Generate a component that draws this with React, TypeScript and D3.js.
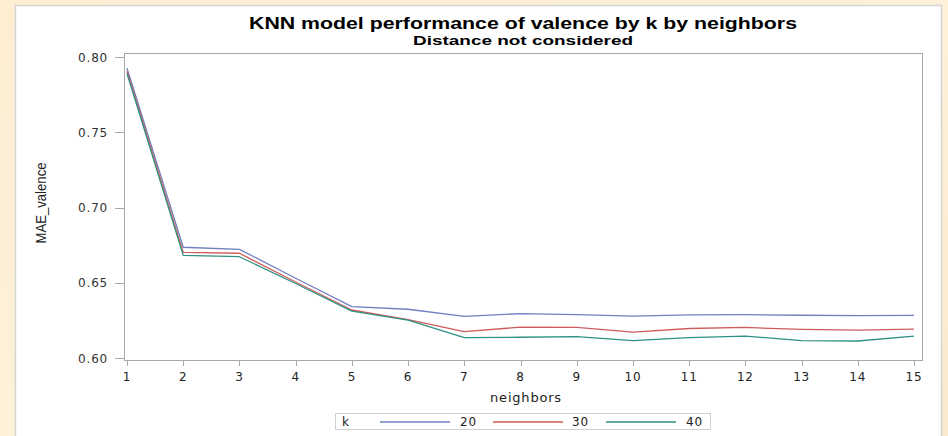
import React from "react";
import * as d3 from "d3";

const neighbors = [1, 2, 3, 4, 5, 6, 7, 8, 9, 10, 11, 12, 13, 14, 15];
const k20 = [0.7925, 0.6736, 0.6722, 0.6530, 0.6341, 0.6324, 0.6276, 0.6295, 0.6288, 0.6278, 0.6286, 0.6288, 0.6284, 0.6282, 0.6283];
const k30 = [0.7905, 0.6702, 0.6696, 0.6505, 0.6319, 0.6255, 0.6175, 0.6205, 0.6203, 0.6172, 0.6196, 0.6203, 0.6190, 0.6185, 0.6192];
const k40 = [0.7890, 0.6682, 0.6673, 0.6495, 0.6312, 0.6252, 0.6135, 0.6138, 0.6142, 0.6115, 0.6135, 0.6146, 0.6115, 0.6113, 0.6146];
const seriesNames = ["20", "30", "40"];
const seriesColors = ["#6f7fc0", "#d05b5b", "#2e9282"];
const yTicks = [0.6, 0.65, 0.7, 0.75, 0.8];

const W = 948;
const H = 436;

export default function App() {
  const x = d3.scaleLinear().domain([1, 15]).range([127, 914]);
  const y = d3.scaleLinear().domain([0.6, 0.8]).range([358, 57]);
  const frame = { l: 124, r: 922, t: 53, b: 360 };
  const line = d3
    .line<number>()
    .x((_, i) => x(neighbors[i]))
    .y((d) => y(d));
  const all = [k20, k30, k40];
  const tickFont = "'DejaVu Sans', Verdana, sans-serif";
  const legendItems = [
    { name: seriesNames[0], x1: 380, x2: 450, tx: 460 },
    { name: seriesNames[1], x1: 493, x2: 563, tx: 572 },
    { name: seriesNames[2], x1: 606, x2: 676, tx: 686 },
  ];
  return (
    <svg
      width={W}
      height={H}
      style={{ position: "absolute", left: 0, top: 0, display: "block" }}
    >
      <defs>
        <linearGradient id="bg" x1="0" y1="0" x2="1" y2="1">
          <stop offset="0" stopColor="#fdeed2" />
          <stop offset="0.5" stopColor="#fdf1da" />
          <stop offset="1" stopColor="#fbe9cc" />
        </linearGradient>
      </defs>
      <rect x={0} y={0} width={W} height={H} fill="url(#bg)" />
      <rect x={15.5} y={5.5} width={926} height={H} fill="#ffffff" stroke="#d4d4d4" strokeWidth={1.5} />
      <text
        x={523}
        y={29}
        textAnchor="middle"
        fontFamily="'Liberation Sans', Arial, sans-serif"
        fontWeight="bold"
        fontSize={16}
        textLength={548}
        lengthAdjust="spacingAndGlyphs"
        fill="#000"
      >
        KNN model performance of valence by k by neighbors
      </text>
      <text
        x={523}
        y={45}
        textAnchor="middle"
        fontFamily="'Liberation Sans', Arial, sans-serif"
        fontWeight="bold"
        fontSize={13}
        textLength={220}
        lengthAdjust="spacingAndGlyphs"
        fill="#000"
      >
        Distance not considered
      </text>
      <rect
        x={frame.l + 0.5}
        y={frame.t + 0.5}
        width={frame.r - frame.l}
        height={frame.b - frame.t}
        fill="none"
        stroke="#a8a8a8"
        strokeWidth={1}
      />
      {yTicks.map((t) => (
        <g key={t}>
          <line x1={115} x2={frame.l} y1={Math.round(y(t)) + 0.5} y2={Math.round(y(t)) + 0.5} stroke="#a8a8a8" />
          <text
            x={108}
            y={y(t) + 4.5}
            textAnchor="end"
            fontFamily={tickFont}
            fontSize={12}
            letterSpacing={0.8}
            fill="#333"
          >
            {d3.format(".2f")(t)}
          </text>
        </g>
      ))}
      {neighbors.map((n) => (
        <g key={n}>
          <line x1={Math.round(x(n)) + 0.5} x2={Math.round(x(n)) + 0.5} y1={frame.b} y2={frame.b + 6} stroke="#a8a8a8" />
          <text
            x={x(n)}
            y={381}
            textAnchor="middle"
            fontFamily={tickFont}
            fontSize={12}
            letterSpacing={0.8}
            fill="#222"
          >
            {n}
          </text>
        </g>
      ))}
      <text
        x={526}
        y={402}
        textAnchor="middle"
        fontFamily={tickFont}
        fontSize={13}
        letterSpacing={0.8}
        fill="#222"
      >
        neighbors
      </text>
      <text
        transform={`translate(46,203) rotate(-90)`}
        textAnchor="middle"
        fontFamily="'Liberation Sans', Arial, sans-serif"
        fontSize={14}
        textLength={81}
        lengthAdjust="spacingAndGlyphs"
        fill="#222"
      >
        MAE_valence
      </text>
      {all.map((s, i) => (
        <path
          key={i}
          d={line(s) || ""}
          fill="none"
          stroke={seriesColors[i]}
          strokeWidth={1.3}
          strokeLinejoin="round"
        />
      ))}
      <rect x={335.5} y={413.5} width={375} height={16} fill="#fff" stroke="#d0d0d0" />
      <text x={342} y={426} fontFamily={tickFont} fontSize={12} fill="#222">
        k
      </text>
      {legendItems.map((it, i) => (
        <g key={it.name}>
          <line x1={it.x1} x2={it.x2} y1={422} y2={422} stroke={seriesColors[i]} strokeWidth={1.3} />
          <text x={it.tx} y={426} fontFamily={tickFont} fontSize={12} letterSpacing={0.8} fill="#222">
            {it.name}
          </text>
        </g>
      ))}
    </svg>
  );
}
